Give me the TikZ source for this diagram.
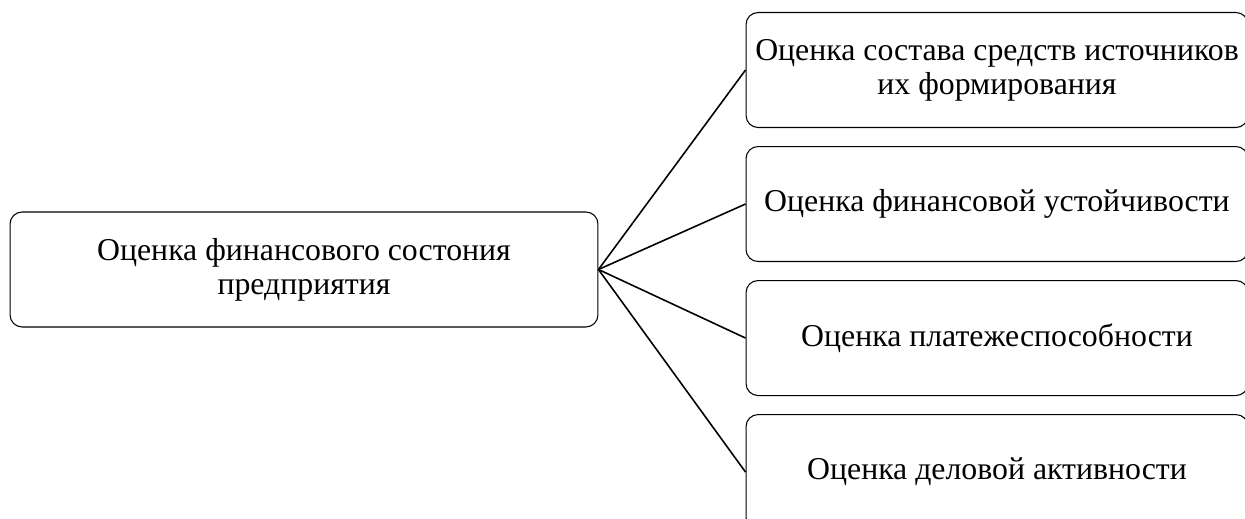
\documentclass[tikz,border=0pt]{standalone}
\usepackage{fontspec}
\setmainfont{Liberation Serif}
\usetikzlibrary{positioning}
\tikzset{
  blk/.style ={rectangle, rounded corners=0.24cm, draw, line width=0.6pt, align=center, inner sep=0pt, font=\fontsize{18.1pt}{19.5pt}\selectfont},
  mainblk/.style ={blk, minimum width=11.76cm, minimum height=2.3cm},
  subblk/.style ={blk, minimum width=10.04cm, minimum height=2.3cm},
  ln/.style  ={line width=0.9pt},
}
\begin{document}
\begin{tikzpicture}[x=0.02cm, y=-0.02cm]
  \clip (0,0) rectangle (1245,519);
  \useasboundingbox (0,0) rectangle (1245,519);
  \node[mainblk] (fin) at (304,269.5) {Оценка финансового состония\\предприятия};
  \node[subblk] (sost) at (997,70) {Оценка состава средств источников\\их формирования};
  \node[subblk, below=0.36cm of sost] (ust) {Оценка финансовой устойчивости};
  \node[subblk, below=0.36cm of ust] (plat) {Оценка платежеспособности};
  \node[subblk, below=0.36cm of plat] (akt) {Оценка деловой активности};
  \foreach \t in {sost, ust, plat, akt}
    \draw[ln] (fin.east) -- (\t.west);
\end{tikzpicture}
\end{document}
